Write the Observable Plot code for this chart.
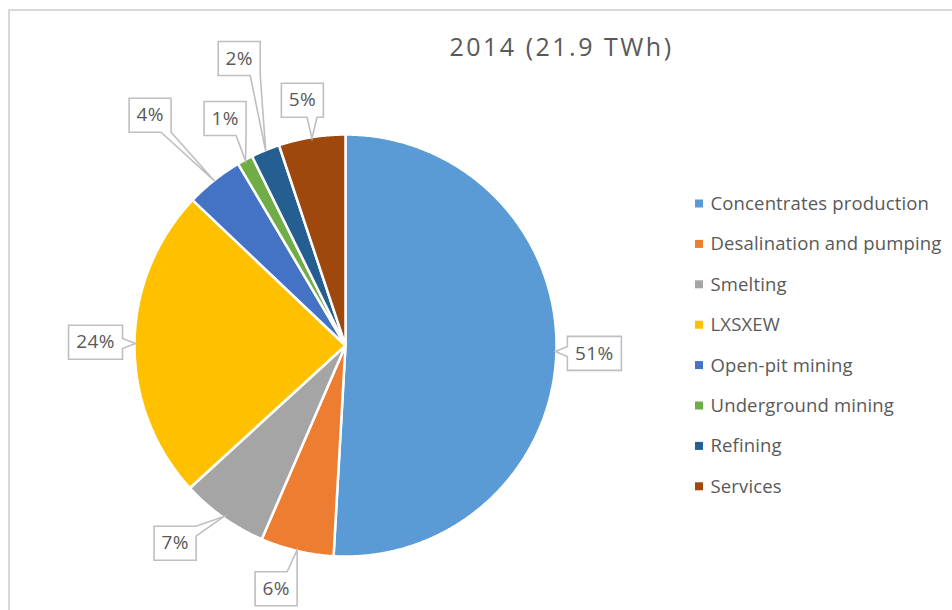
<!DOCTYPE html>
<html><head><meta charset="utf-8">
<script src="https://cdn.jsdelivr.net/npm/d3@7"></script>
<script src="https://cdn.jsdelivr.net/npm/@observablehq/plot@0.6"></script>
<style>
html,body{margin:0;padding:0;background:#fff;}
#wrap{position:relative;width:952px;height:610px;overflow:hidden;}
#frame{position:absolute;left:8px;top:9px;width:1000px;height:700px;border:2px solid #d9d9d9;box-sizing:border-box;}
#chart{position:absolute;left:0;top:0;}
</style></head><body>
<div id="wrap"><div id="frame"></div><div id="chart"></div></div>
<script>
// ---- data ----
const title = "2014 (21.9 TWh)";
const categories = ["Concentrates production","Desalination and pumping","Smelting","LXSXEW","Open-pit mining","Underground mining","Refining","Services"];
const shares = [50.9, 5.6, 6.7, 23.9, 4.4, 1.2, 2.2, 5.1];
const colors = ["#5B9BD5","#ED7D31","#A5A5A5","#FFC000","#4472C4","#70AD47","#255E91","#9E480E"];

// ---- layout ----
const W = 952, H = 610, cx = 345, cy = 345, R = 211;
const labelDist  = [249, 253, 261, 250, 302, 257, 306, 249];
const labelShift = [0.2, 2.6, 5.3, 0.2, -1.8, 0.5, 2.0, -0.8];
const legendX = 695, legendY0 = 203.5, legendStep = 40.4;
const titleX = 561, titleY = 47;
const FONT = "'Open Sans', sans-serif";
const TXT = "#595959";

const total = d3.sum(shares);
const arcs = d3.pie().sort(null).value(d => d.value)(categories.map((name, i) => ({name, value: shares[i]})));
const pt = (a, r) => [cx + r * Math.sin(a), cy - r * Math.cos(a)];

const slicePts = [];
arcs.forEach(p => {
  const n = Math.max(2, Math.ceil((p.endAngle - p.startAngle) / (Math.PI / 360)));
  slicePts.push({name: p.data.name, x: cx, y: cy});
  for (let k = 0; k <= n; k++) {
    const [x, y] = pt(p.startAngle + (p.endAngle - p.startAngle) * k / n, R);
    slicePts.push({name: p.data.name, x, y});
  }
});

const clamp = (v, a, b) => Math.max(a, Math.min(b, v));
const callouts = arcs.map((p, i) => {
  const mid = (p.startAngle + p.endAngle) / 2;
  const [ax, ay] = pt(mid, R - 1);
  const [lx, ly] = pt(mid + labelShift[i] * Math.PI / 180, labelDist[i]);
  const text = Math.round(p.value / total * 100) + "%";
  const w = text.length === 2 ? 42 : 54, h = 34;
  return {name: p.data.name, text, ax, ay, lx, ly, w, h};
});

const calloutPts = [];
callouts.forEach(c => {
  const x0 = c.lx - c.w / 2, x1 = c.lx + c.w / 2, y0 = c.ly - c.h / 2, y1 = c.ly + c.h / 2;
  const dx = c.ax - c.lx, dy = c.ay - c.ly, bw = 5;
  let side;
  if (Math.abs(dx) / (c.w / 2) >= Math.abs(dy) / (c.h / 2)) side = dx > 0 ? "r" : "l";
  else side = dy > 0 ? "b" : "t";
  const pts = [];
  const A = [c.ax, c.ay];
  pts.push([x0, y0]);
  if (side === "t") { const m = clamp(c.ax, x0 + bw, x1 - bw); pts.push([m - bw, y0], A, [m + bw, y0]); }
  pts.push([x1, y0]);
  if (side === "r") { const m = clamp(c.ay, y0 + bw, y1 - bw); pts.push([x1, m - bw], A, [x1, m + bw]); }
  pts.push([x1, y1]);
  if (side === "b") { const m = clamp(c.ax, x0 + bw, x1 - bw); pts.push([m + bw, y1], A, [m - bw, y1]); }
  pts.push([x0, y1]);
  if (side === "l") { const m = clamp(c.ay, y0 + bw, y1 - bw); pts.push([x0, m + bw], A, [x0, m - bw]); }
  pts.forEach(([x, y]) => calloutPts.push({name: c.name, x, y}));
});

const legendRows = categories.map((name, i) => ({name, yc: legendY0 + i * legendStep}));

const chart = Plot.plot({
  width: W, height: H,
  margin: 0,
  style: {fontFamily: FONT, background: "transparent"},
  x: {domain: [0, W], range: [0, W], axis: null},
  y: {domain: [0, H], range: [0, H], axis: null},
  color: {domain: categories, range: colors},
  marks: [
    Plot.line(slicePts, {x: "x", y: "y", z: "name", fill: "name", stroke: "white", strokeWidth: 2.5, strokeLinejoin: "miter", curve: "linear-closed"}),
    Plot.line(calloutPts, {x: "x", y: "y", z: "name", fill: "white", stroke: "#bfbfbf", strokeWidth: 1.6, strokeLinejoin: "miter", strokeMiterlimit: 10, curve: "linear-closed"}),
    Plot.text(callouts, {x: "lx", y: "ly", text: "text", fill: TXT, fontSize: 19, fontFamily: FONT}),
    Plot.text([title], {x: titleX, y: titleY, text: d => d, fill: TXT, fontSize: 25, fontFamily: FONT}),
    Plot.rect(legendRows, {x1: legendX, x2: legendX + 8, y1: d => d.yc - 4, y2: d => d.yc + 4, fill: "name"}),
    Plot.text(legendRows, {x: legendX + 15, y: "yc", text: "name", textAnchor: "start", fill: TXT, fontSize: 18.5, fontFamily: FONT})
  ]
});
// letter-spacing styling for the three text layers (labels, title, legend)
const textGroups = chart.querySelectorAll('g[aria-label="text"]');
const spacing = ["0.4px", "2.5px", "0.15px"];
textGroups.forEach((g, i) => { if (spacing[i]) g.style.letterSpacing = spacing[i]; });
document.getElementById("chart").appendChild(chart);
</script>
</body></html>
